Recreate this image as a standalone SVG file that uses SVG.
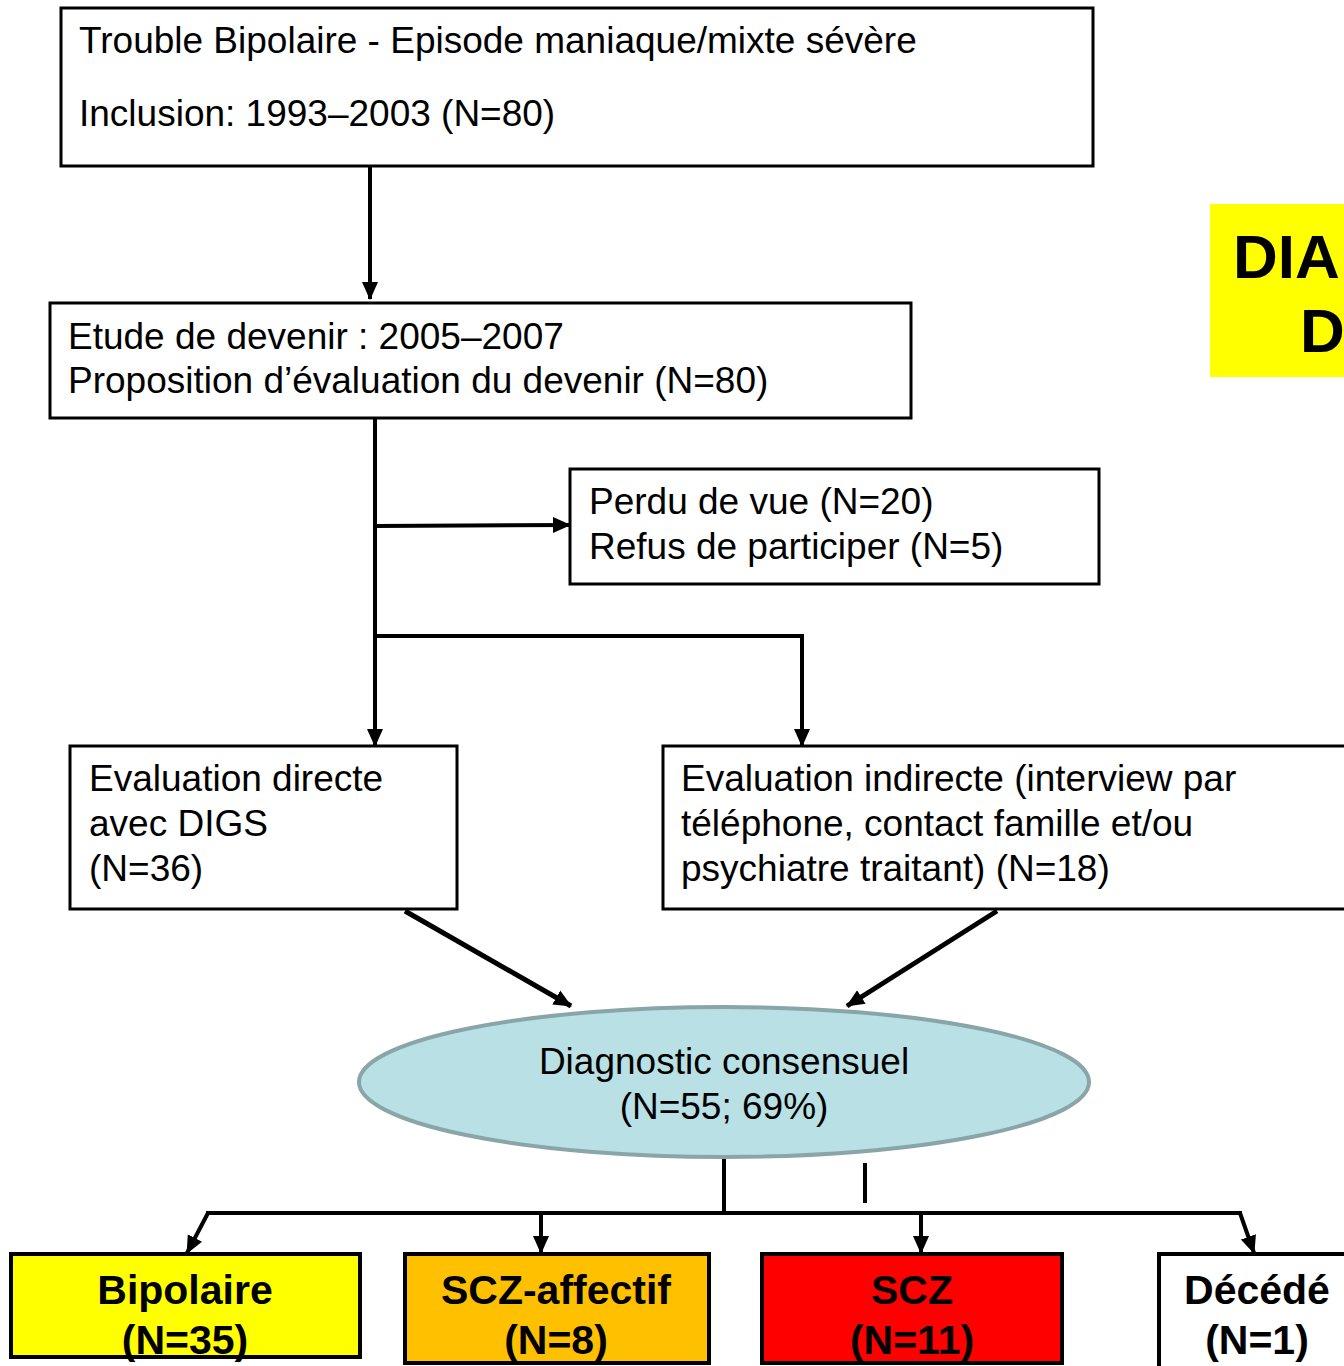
<svg xmlns="http://www.w3.org/2000/svg" width="1344" height="1366" viewBox="0 0 1344 1366">
<style>
.box{fill:#fff;stroke:#000;stroke-width:3}
.t{font-family:"Liberation Sans",Arial,sans-serif;font-size:37px;fill:#000}
.b{font-family:"Liberation Sans",Arial,sans-serif;font-size:41px;font-weight:bold;fill:#000;text-anchor:middle}
.c{fill:none;stroke:#000;stroke-width:4}
.d{fill:none;stroke:#000;stroke-width:5}
</style>
<defs>
<marker id="ah" markerUnits="userSpaceOnUse" markerWidth="18" markerHeight="18" viewBox="0 0 18 18" refX="17" refY="9" orient="auto">
<path d="M0,1 L18,9 L0,17 Z" fill="#000"/>
</marker>
</defs>
<rect width="1344" height="1366" fill="#fff"/>
<g id="title-yellow">
<rect x="1210" y="204" width="140" height="173" fill="#ffff00"/>
<text x="1233" y="278" font-family="Liberation Sans,Arial,sans-serif" font-size="62" font-weight="bold">DIA</text>
<text x="1300" y="352" font-family="Liberation Sans,Arial,sans-serif" font-size="62" font-weight="bold">D</text>
</g>
<g id="connectors">
<line class="c" x1="370" y1="166" x2="370" y2="299" marker-end="url(#ah)"/>
<line class="c" x1="375" y1="418" x2="375" y2="746" marker-end="url(#ah)"/>
<line class="c" x1="375" y1="526" x2="570" y2="525" marker-end="url(#ah)"/>
<polyline class="c" points="375,636 802,636 802,746" marker-end="url(#ah)"/>
<line class="d" x1="405" y1="911" x2="571" y2="1006" marker-end="url(#ah)"/>
<line class="d" x1="997" y1="911" x2="847" y2="1006" marker-end="url(#ah)"/>
<line class="c" x1="724" y1="1158" x2="724" y2="1213"/>
<line class="c" x1="865" y1="1163" x2="865" y2="1203"/>
<line class="c" x1="206" y1="1213" x2="1242" y2="1213"/>
<line class="c" x1="208" y1="1213" x2="187" y2="1253" marker-end="url(#ah)"/>
<line class="c" x1="541" y1="1213" x2="541" y2="1253" marker-end="url(#ah)"/>
<line class="c" x1="921" y1="1213" x2="921" y2="1253" marker-end="url(#ah)"/>
<line class="c" x1="1240" y1="1213" x2="1254" y2="1253" marker-end="url(#ah)"/>
</g>
<g id="n-inclusion">
<rect class="box" x="61" y="8" width="1032" height="158"/>
<text class="t" x="79" y="53">Trouble Bipolaire - Episode maniaque/mixte sévère</text>
<text class="t" x="79" y="126">Inclusion: 1993–2003 (N=80)</text>
</g>
<g id="n-etude">
<rect class="box" x="50" y="303" width="861" height="115"/>
<text class="t" x="68" y="349">Etude de devenir : 2005–2007</text>
<text class="t" x="68" y="393">Proposition d’évaluation du devenir (N=80)</text>
</g>
<g id="n-perdu">
<rect class="box" x="570" y="469" width="529" height="115"/>
<text class="t" x="589" y="514">Perdu de vue (N=20)</text>
<text class="t" x="589" y="559">Refus de participer (N=5)</text>
</g>
<g id="n-directe">
<rect class="box" x="70" y="746" width="387" height="163"/>
<text class="t" x="89" y="791">Evaluation directe</text>
<text class="t" x="89" y="836">avec DIGS</text>
<text class="t" x="89" y="881">(N=36)</text>
</g>
<g id="n-indirecte">
<rect class="box" x="663" y="746" width="700" height="163"/>
<text class="t" x="681" y="791">Evaluation indirecte (interview par</text>
<text class="t" x="681" y="836">téléphone, contact famille et/ou</text>
<text class="t" x="681" y="881">psychiatre traitant) (N=18)</text>
</g>
<g id="n-diagnostic">
<ellipse cx="724" cy="1082" rx="365" ry="75" fill="#b9e0e4" stroke="#8aa5a8" stroke-width="4"/>
<text class="t" x="724" y="1074" text-anchor="middle">Diagnostic consensuel</text>
<text class="t" x="724" y="1119" text-anchor="middle">(N=55; 69%)</text>
</g>
<g id="n-bipolaire">
<rect x="11" y="1254" width="349" height="103" fill="#ffff00" stroke="#000" stroke-width="4"/>
<text class="b" x="185" y="1304">Bipolaire</text>
<text class="b" x="185" y="1354">(N=35)</text>
</g>
<g id="n-sczaff">
<rect x="405" y="1254" width="304" height="109" fill="#ffc000" stroke="#000" stroke-width="4"/>
<text class="b" x="556" y="1304">SCZ-affectif</text>
<text class="b" x="556" y="1354">(N=8)</text>
</g>
<g id="n-scz">
<rect x="762" y="1254" width="300" height="109" fill="#ff0000" stroke="#000" stroke-width="4"/>
<text class="b" x="912" y="1304">SCZ</text>
<text class="b" x="912" y="1354">(N=11)</text>
</g>
<g id="n-decede">
<rect x="1159" y="1254" width="200" height="120" fill="#fff" stroke="#000" stroke-width="4"/>
<text class="b" x="1257" y="1304">Décédé</text>
<text class="b" x="1257" y="1354">(N=1)</text>
</g>
</svg>
